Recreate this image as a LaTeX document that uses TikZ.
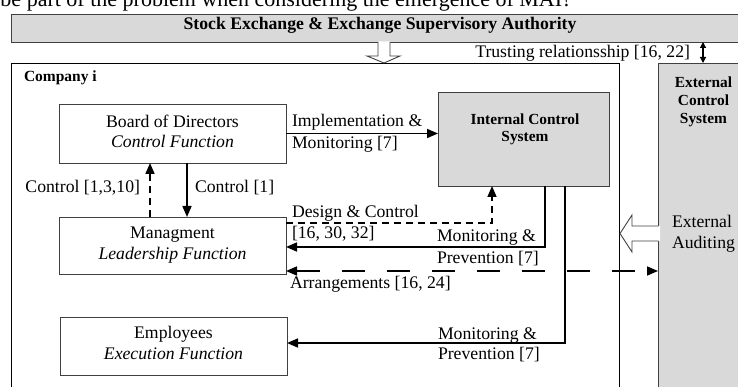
\documentclass[tikz,border=0pt]{standalone}
\usepackage{fontspec}
\setmainfont{Liberation Serif}
\usetikzlibrary{arrows.meta}
\definecolor{boxgray}{HTML}{D9D9D9}
\definecolor{edgec}{HTML}{404040}
\begin{document}
\begin{tikzpicture}[x=1pt,y=-1pt,
  box/.style={draw=edgec, line width=0.9pt, inner sep=0pt, outer sep=0pt, fill=white},
  graybox/.style={box, fill=boxgray},
  txt/.style={inner sep=0pt, outer sep=0pt, font=\fontsize{17.7}{21}\selectfont},
  lab/.style={txt, anchor=base west},
  labr/.style={txt, anchor=base east},
  ctr/.style={txt, anchor=base},
  bctr/.style={inner sep=0pt, outer sep=0pt, anchor=base, font=\fontsize{15.4}{18}\selectfont\bfseries},
  conn/.style={line width=1.6pt, -{Triangle[length=11pt,width=9pt]}},
  dashshort/.style={dash pattern=on 7pt off 5pt},
  dashlong/.style={dash pattern=on 23pt off 22pt},
  hollow/.style={fill=white, draw=none},
  hollowedge/.style={draw=edgec, line width=0.9pt}
]
\useasboundingbox (0,0) rectangle (738,387);
\clip (0,0) rectangle (738,387);

% cut-off text at the top
\node[inner sep=0pt, outer sep=0pt, anchor=base west, font=\fontsize{22}{26}\selectfont] (topq) at (0.5,7) {be part of the problem when considering the emergence of MAI?};

% frames
\node[graybox, minimum width=738pt, minimum height=28pt] (bar) at (380,28) {};
\node[inner sep=0pt, outer sep=0pt, anchor=base, font=\fontsize{17.7}{21}\selectfont\bfseries] (bartxt) at (380,30) {Stock Exchange \& Exchange Supervisory Authority};
\node[box, draw=black, minimum width=608pt, minimum height=342pt] (comp) at (315,234) {};
\node[inner sep=0pt, outer sep=0pt, anchor=base west, font=\fontsize{15.5}{18}\selectfont\bfseries] (comptxt) at (24,82) {Company i};
\node[graybox, minimum width=102pt, minimum height=342pt] (ext) at (709,234) {};
\node[bctr] (ext1) at (703.5,88) {External};
\node[bctr] (ext2) at (703.5,106) {Control};
\node[bctr] (ext3) at (703.5,124) {System};

% hollow arrow from the authority to the company
\fill[hollow] (378,41.5) -- (378,56) -- (367,56) -- (384,63) -- (400,56) -- (390,56) -- (390,41.5) -- cycle;
\draw[hollowedge] (378,42) -- (378,56) -- (367,56) -- (384,63) -- (400,56) -- (390,56) -- (390,42);

% hollow arrow External Auditing
\fill[hollow] (660,226) -- (632,226) -- (632,215) -- (620,233.5) -- (632,252) -- (632,241) -- (660,241) -- cycle;
\draw[hollowedge] (658.5,226) -- (632,226) -- (632,215) -- (620,233.5) -- (632,252) -- (632,241) -- (658.5,241);
\node[lab] (aud1) at (672,228) {External};
\node[lab] (aud2) at (672,248) {Auditing};

% trusting relationship
\coordinate (t1) at (703,0);
\draw[line width=1.2pt, {Triangle[length=6pt,width=6pt]}-{Triangle[length=6pt,width=6pt]}] (bar.south -| t1) -- (ext.north -| t1);
\node[labr] (trust) at (690,58) {Trusting relationsship [16, 22]};

% inner boxes
\node[box, minimum width=227pt, minimum height=59pt] (board) at (172.5,133.5) {};
\node[ctr] (board1) at (172.5,128) {Board of Directors};
\node[ctr] (board2) at (172.5,148) {\itshape Control Function};
\node[box, minimum width=227pt, minimum height=57pt] (mgmt) at (172.5,245.5) {};
\node[ctr] (mgmt1) at (172.5,239) {Managment};
\node[ctr] (mgmt2) at (172.5,259) {\itshape Leadership Function};
\node[box, minimum width=227pt, minimum height=58pt] (emp) at (173.5,346) {};
\node[ctr] (emp1) at (173.5,338) {Employees};
\node[ctr] (emp2) at (173.5,359) {\itshape Execution Function};
\node[graybox, minimum width=171pt, minimum height=94pt] (ics) at (523.5,139) {};
\node[bctr] (ics1) at (525,125) {Internal Control};
\node[bctr] (ics2) at (525,142) {System};

% connectors
\draw[conn] (board.east) -- (board.east -| ics.west);
\node[lab] (impl1) at (292,127) {Implementation \&};
\node[lab] (impl2) at (292,149) {Monitoring [7]};

\coordinate (c1) at (187,0);
\draw[conn] (board.south -| c1) -- (mgmt.north -| c1);
\node[lab] (ctl1) at (195,193) {Control [1]};
\coordinate (c2) at (150,0);
\draw[conn, dashshort] (mgmt.north -| c2) -- (board.south -| c2);
\node[labr] (ctl2) at (140,193) {Control [1,3,10]};

\coordinate (d1) at (492,223);
\draw[conn, dashshort] (mgmt.east |- d1) -- (d1) -- (ics.south -| d1);
\node[lab] (des1) at (292,218) {Design \& Control};
\node[lab] (des2) at (292,239) {[16, 30, 32]};

\coordinate (m1) at (545,247);
\draw[conn] (ics.south -| m1) -- (m1) -- (mgmt.east |- m1);
\node[lab] (mp1a) at (437,241) {Monitoring \&};
\node[lab] (mp1b) at (437,263) {Prevention [7]};

\coordinate (a1) at (0,271);
\draw[line width=1.6pt, dashlong, {Triangle[length=11pt,width=9pt]}-{Triangle[length=11pt,width=9pt]}] (mgmt.east |- a1) -- (ext.west |- a1);
\node[lab] (arr) at (290,288) {Arrangements [16, 24]};

\coordinate (m2) at (565,343);
\draw[conn] (ics.south -| m2) -- (m2) -- (emp.east |- m2);
\node[lab] (mp2a) at (438,339) {Monitoring \&};
\node[lab] (mp2b) at (438,359) {Prevention [7]};
\end{tikzpicture}
\end{document}
